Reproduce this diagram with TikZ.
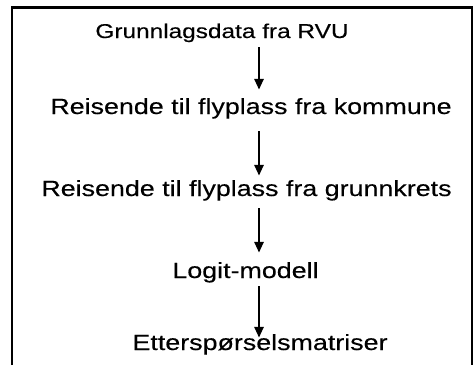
\documentclass[tikz,border=0pt]{standalone}
\usepackage{fontspec}
\setmainfont[FakeStretch=1.22,FakeBold=0.3]{Liberation Sans}
\usetikzlibrary{arrows.meta}
\begin{document}
\begin{tikzpicture}[x=1pt,y=-1pt,
  txt/.style={inner sep=0pt, anchor=base, font=\fontsize{22}{26}\selectfont},
  small/.style={font=\fontsize{20}{24}\selectfont},
  arr/.style={line width=2.8pt, -{Triangle[length=11pt,width=9pt]}},
  frame/.style={line width=2.2pt}]
\useasboundingbox (0,0) rectangle (473,365);
\draw[frame] (12,365) -- (12,7.5) -- (472,7.5) -- (472,365);
\coordinate (ax) at (259,0);
\node[txt, small, text height=14pt, text depth=9pt] (l1) at (222,38) {Grunnlagsdata fra RVU};
\node[txt, text height=24pt, text depth=17pt] (l2) at (251,114) {Reisende til flyplass fra kommune};
\node[txt, text height=20pt, text depth=12pt] (l3) at (246.5,196) {Reisende til flyplass fra grunnkrets};
\node[txt, text height=25pt, text depth=8pt] (l4) at (245.5,278) {Logit-modell};
\node[txt, text height=12pt, text depth=4pt] (l5) at (260,350) {Etterspørselsmatriser};
\draw[arr] (l1.south -| ax) -- (l2.north -| ax);
\draw[arr] (l2.south -| ax) -- (l3.north -| ax);
\draw[arr] (l3.south -| ax) -- (l4.north -| ax);
\draw[arr] (l4.south -| ax) -- (l5.north -| ax);
\end{tikzpicture}
\end{document}
